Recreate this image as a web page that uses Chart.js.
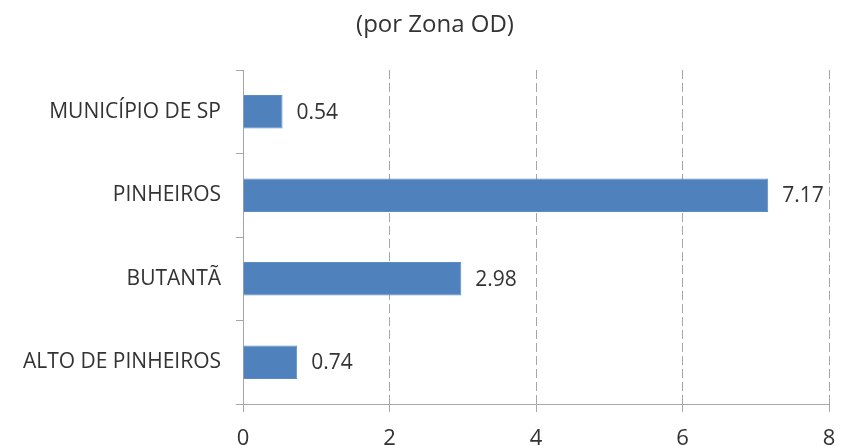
<!DOCTYPE html>
<html>
<head>
<meta charset="utf-8">
<script src="https://cdn.jsdelivr.net/npm/chart.js@4/dist/chart.umd.min.js"></script>
<style>
  html, body { margin: 0; padding: 0; background: #fff; }
  #wrap { width: 844px; height: 446px; }
</style>
</head>
<body>
<div id="wrap"><canvas id="chart"></canvas></div>
<script>
const zonas   = ['MUNICÍPIO DE SP', 'PINHEIROS', 'BUTANTÃ', 'ALTO DE PINHEIROS'];
const valores = [0.54, 7.17, 2.98, 0.74];
const xTicks  = [0, 2, 4, 6, 8];
const subtitulo = '(por Zona OD)';

const FONT = '"Open Sans", sans-serif';
const TEXT = '#333333';

// rótulos de valor à direita das barras
const valueLabels = {
    id: 'valueLabels',
    afterDatasetsDraw(chart) {
        const ctx = chart.ctx;
        const meta = chart.getDatasetMeta(0);
        ctx.save();
        ctx.font = '21px ' + FONT;
        ctx.fillStyle = TEXT;
        ctx.textAlign = 'left';
        ctx.textBaseline = 'middle';
        meta.data.forEach((bar, i) => {
            ctx.fillText(valores[i].toFixed(2), bar.x + 14, bar.y + 1);
        });
        ctx.restore();
    }
};

// subtítulo (a primeira linha do título está cortada no original)
const subtitlePlugin = {
    id: 'subtitlePlugin',
    afterDraw(chart) {
        const ctx = chart.ctx;
        ctx.save();
        ctx.font = '24px ' + FONT;
        ctx.fillStyle = TEXT;
        ctx.textAlign = 'center';
        ctx.textBaseline = 'middle';
        ctx.fillText(subtitulo, 435, 25);
        ctx.restore();
    }
};

new Chart(document.getElementById('chart'), {
    type: 'bar',
    data: {
        labels: zonas,
        datasets: [{
            data: valores,
            backgroundColor: '#4F81BD',
            borderColor: '#5b8cc6',
            borderWidth: 1,
            barPercentage: 0.5,
            categoryPercentage: 0.8
        }]
    },
    options: {
        indexAxis: 'y',
        responsive: true,
        maintainAspectRatio: false,
        animation: false,
        layout: { padding: { left: 0, right: 15, top: 70, bottom: 0 } },
        plugins: {
            legend: { display: false },
            tooltip: { enabled: false },
            title: { display: false }
        },
        scales: {
            x: {
                min: 0,
                max: 8,
                afterBuildTicks: (scale) => {
                    scale.ticks = xTicks.map(v => ({ value: v }));
                },
                afterFit: (scale) => {
                    scale.height = 42;
                    scale.paddingLeft = 0;
                    scale.paddingRight = 0;
                },
                grid: {
                    color: '#a6a6a6',
                    tickColor: '#a6a6a6',
                    tickLength: 8,
                    lineWidth: 1
                },
                border: { display: true, color: '#a6a6a6', dash: [9, 4] },
                ticks: {
                    color: TEXT,
                    padding: 14,
                    font: { family: FONT, size: 22 }
                }
            },
            y: {
                afterFit: (scale) => { scale.width = 243; },
                grid: {
                    drawOnChartArea: false,
                    color: '#a6a6a6',
                    tickLength: 7
                },
                border: { display: true, color: '#a6a6a6' },
                ticks: {
                    color: TEXT,
                    padding: 15,
                    font: { family: FONT, size: 21 }
                }
            }
        }
    },
    plugins: [valueLabels, subtitlePlugin]
});
</script>
</body>
</html>
